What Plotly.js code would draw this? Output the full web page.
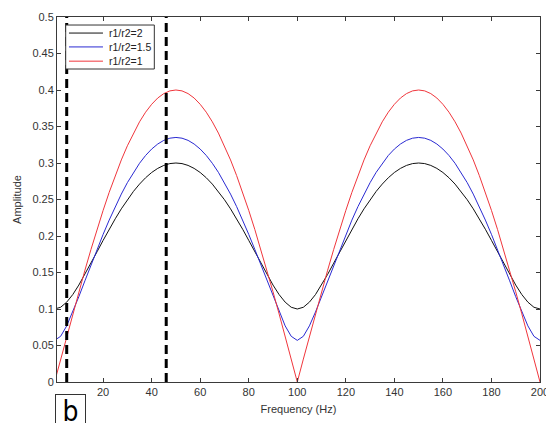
<!DOCTYPE html>
<html>
<head>
<meta charset="utf-8">
<script src="https://cdn.plot.ly/plotly-3.0.1.min.js"></script>
<style>html,body{margin:0;padding:0;background:#fff;}#chart{width:546px;height:423px;}</style>
</head>
<body>
<div id="chart"></div>
<script>
// Frequency samples (Hz), every 2.5 Hz
var freq = [];
for (var i = 0; i <= 80; i++) { freq.push(i * 2.5); }
// r1/r2 = 2 (black)
var ampR2 = [
  0.1,0.1024,0.1094,0.1198,0.1328,0.1474,0.1628,0.1784,0.1940,0.2092,0.2236,0.2372,0.2497,0.2611,0.2711,0.2798,0.2870,0.2926,0.2967,0.2992,
  0.3,0.2992,0.2967,0.2926,0.2870,0.2798,0.2711,0.2611,0.2497,0.2372,0.2236,0.2092,0.1940,0.1784,0.1628,0.1474,0.1328,0.1198,0.1094,0.1024,
  0.1,0.1024,0.1094,0.1198,0.1328,0.1474,0.1628,0.1784,0.1940,0.2092,0.2236,0.2372,0.2497,0.2611,0.2711,0.2798,0.2870,0.2926,0.2967,0.2992,
  0.3,0.2992,0.2967,0.2926,0.2870,0.2798,0.2711,0.2611,0.2497,0.2372,0.2236,0.2092,0.1940,0.1784,0.1628,0.1474,0.1328,0.1198,0.1094,0.1024,
  0.1];
// r1/r2 = 1.5 (blue)
var ampR15 = [
  0.0570,0.0626,0.0769,0.0959,0.1169,0.1386,0.1603,0.1817,0.2022,0.2218,0.2403,0.2574,0.2731,0.2872,0.2996,0.3103,0.3191,0.3260,0.3310,0.3340,
  0.3350,0.3340,0.3310,0.3260,0.3191,0.3103,0.2996,0.2872,0.2731,0.2574,0.2403,0.2218,0.2022,0.1817,0.1603,0.1386,0.1169,0.0959,0.0769,0.0626,
  0.0570,0.0626,0.0769,0.0959,0.1169,0.1386,0.1603,0.1817,0.2022,0.2218,0.2403,0.2574,0.2731,0.2872,0.2996,0.3103,0.3191,0.3260,0.3310,0.3340,
  0.3350,0.3340,0.3310,0.3260,0.3191,0.3103,0.2996,0.2872,0.2731,0.2574,0.2403,0.2218,0.2022,0.1817,0.1603,0.1386,0.1169,0.0959,0.0769,0.0626,
  0.0570];
// r1/r2 = 1 (red)
var ampR1 = [
  0,0.0314,0.0626,0.0934,0.1236,0.1531,0.1816,0.2090,0.2351,0.2598,0.2828,0.3042,0.3236,0.3410,0.3564,0.3696,0.3804,0.3890,0.3951,0.3988,
  0.4,0.3988,0.3951,0.3890,0.3804,0.3696,0.3564,0.3410,0.3236,0.3042,0.2828,0.2598,0.2351,0.2090,0.1816,0.1531,0.1236,0.0934,0.0626,0.0314,
  0,0.0314,0.0626,0.0934,0.1236,0.1531,0.1816,0.2090,0.2351,0.2598,0.2828,0.3042,0.3236,0.3410,0.3564,0.3696,0.3804,0.3890,0.3951,0.3988,
  0.4,0.3988,0.3951,0.3890,0.3804,0.3696,0.3564,0.3410,0.3236,0.3042,0.2828,0.2598,0.2351,0.2090,0.1816,0.1531,0.1236,0.0934,0.0626,0.0314,
  0];
var seriesNames = ['r1/r2=2', 'r1/r2=1.5', 'r1/r2=1'];
var seriesColors = ['#111111', '#2a2ad2', '#f0363c'];
// Vertical dashed marker frequencies (Hz)
var markerFreqs = [5, 46];
var markerSpan = [0, 0.5];

var font = 'Liberation Sans, Arial, sans-serif';
var series = [ampR2, ampR15, ampR1];
var traces = series.map(function (ys, k) {
  return {x: freq, y: ys, name: seriesNames[k], mode: 'lines', showlegend: false,
    line: {color: seriesColors[k], width: 1}};
});
markerFreqs.forEach(function (f) {
  traces.push({x: [f, f], y: markerSpan, mode: 'lines', showlegend: false, hoverinfo: 'skip',
    line: {color: '#000000', width: 3, dash: '9px,5px'}});
});

// Custom legend (box, sample lines and labels in paper coordinates)
var legX0 = 0.018, legX1 = 0.2015, legY0 = 0.8575, legY1 = 0.978;
var legRowY = [0.956, 0.918, 0.879];
var shapes = [{type: 'rect', xref: 'paper', yref: 'paper', x0: legX0, x1: legX1, y0: legY0, y1: legY1,
  line: {color: '#333333', width: 1}, fillcolor: '#ffffff', layer: 'above'}];
var annotations = [];
seriesNames.forEach(function (nm, k) {
  shapes.push({type: 'line', xref: 'paper', yref: 'paper', x0: 0.0248, x1: 0.0952, y0: legRowY[k], y1: legRowY[k],
    line: {color: seriesColors[k], width: 1}, layer: 'above'});
  annotations.push({text: nm, xref: 'paper', yref: 'paper', x: 0.1036, y: legRowY[k], xanchor: 'left', yanchor: 'middle',
    showarrow: false, font: {family: font, size: 10.5, color: '#222222'}});
});
annotations.push({
  text: 'b', xref: 'paper', yref: 'paper', x: -0.004, y: -0.033,
  xanchor: 'left', yanchor: 'top', showarrow: false,
  font: {family: 'DejaVu Sans Condensed, Liberation Sans Narrow, sans-serif', size: 28, color: '#000000'},
  bordercolor: '#333333', borderwidth: 1, borderpad: 0, bgcolor: '#ffffff', width: 29
});

var axisCommon = {
  showline: true, linecolor: '#3a3a3a', linewidth: 1, mirror: 'ticks',
  ticks: 'inside', ticklen: 4, tickcolor: '#3a3a3a', showgrid: false, zeroline: false,
  ticklabeloverflow: 'allow',
  tickfont: {family: font, size: 11, color: '#333333'}
};

var layout = {
  width: 546, height: 423,
  margin: {l: 57, r: 6, t: 17, b: 41},
  paper_bgcolor: '#ffffff', plot_bgcolor: '#ffffff',
  showlegend: false,
  xaxis: Object.assign({}, axisCommon, {
    range: [1, 200.0001], tick0: 0, dtick: 20,
    title: {text: 'Frequency (Hz)', font: {family: font, size: 11, color: '#333333'}, standoff: 8}
  }),
  yaxis: Object.assign({}, axisCommon, {
    range: [0, 0.5], tick0: 0, dtick: 0.05,
    title: {text: 'Amplitude', font: {family: font, size: 11, color: '#333333'}, standoff: 8}
  }),
  shapes: shapes,
  annotations: annotations
};

Plotly.newPlot('chart', traces, layout, {displayModeBar: false, staticPlot: true});
</script>
</body>
</html>
